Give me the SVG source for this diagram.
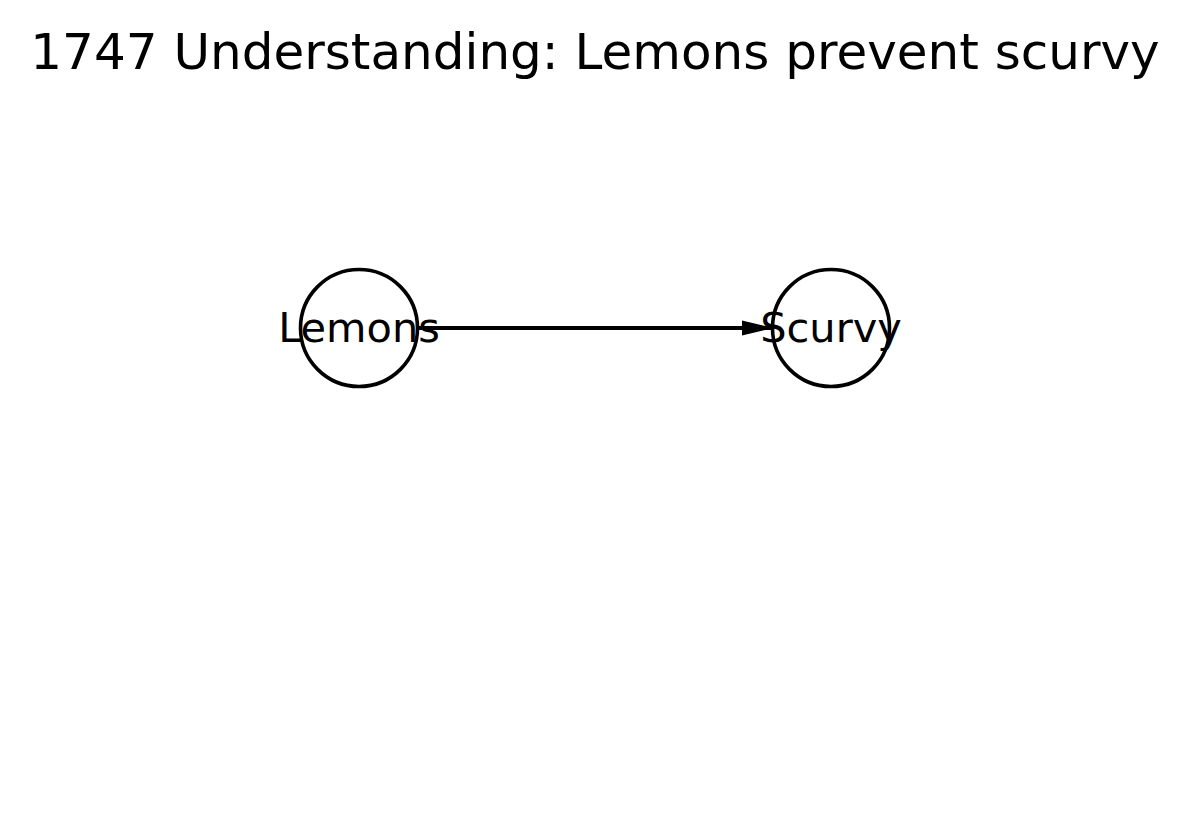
<svg xmlns="http://www.w3.org/2000/svg" width="1190" height="831" viewBox="0 0 1190 831">
<style>
text{font-family:"DejaVu Sans",sans-serif;fill:#000}
.title{font-size:50px}
.lbl{font-size:41.5px}
.node{fill:none;stroke:#000;stroke-width:3.6}
.edge{stroke:#000;stroke-width:4.2;fill:none}
</style>
<defs>
<marker id="ah" markerUnits="userSpaceOnUse" markerWidth="32" markerHeight="16" refX="30" refY="8" orient="auto">
<path d="M0,0.5 L31,8 L0,15.5 Z" fill="#000"/>
</marker>
</defs>
<rect width="1190" height="831" fill="#fff"/>
<text class="title" x="595" y="69" text-anchor="middle">1747 Understanding: Lemons prevent scurvy</text>
<g id="connectors">
<line class="edge" x1="418" y1="328" x2="772" y2="328" marker-end="url(#ah)"/>
</g>
<g id="node-lemons">
<circle class="node" cx="359" cy="328" r="58.5"/>
<text class="lbl" x="359" y="342" text-anchor="middle">Lemons</text>
</g>
<g id="node-scurvy">
<circle class="node" cx="831" cy="328" r="58.5"/>
<text class="lbl" x="831" y="342" text-anchor="middle">Scurvy</text>
</g>
</svg>
